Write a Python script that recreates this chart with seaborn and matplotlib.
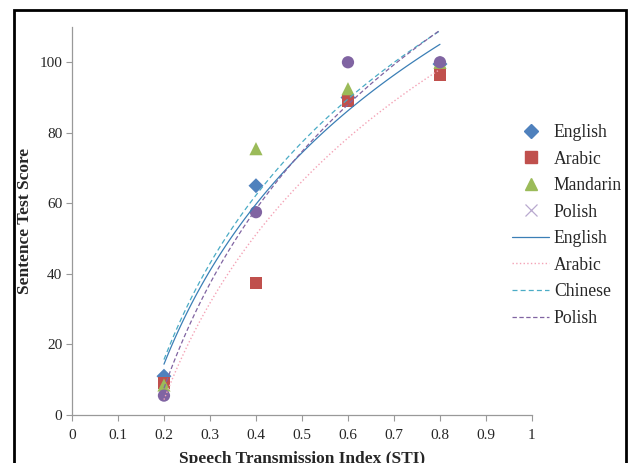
import numpy as np
import pandas as pd
import matplotlib
matplotlib.use('Agg')
import matplotlib.pyplot as plt
from matplotlib.lines import Line2D
from matplotlib.patches import Rectangle
import seaborn as sns

# values
sti = [0.2, 0.4, 0.6, 0.8]
english = [11, 65, 90, 99.5]
arabic = [9, 37.5, 89, 96.5]
mandarin = [8.5, 75.5, 92.5, 100]
polish = [5.5, 57.5, 100, 100]

x_ticks = [0, 0.1, 0.2, 0.3, 0.4, 0.5, 0.6, 0.7, 0.8, 0.9, 1]
x_tick_labels = ['0', '0.1', '0.2', '0.3', '0.4', '0.5', '0.6', '0.7', '0.8', '0.9', '1']
y_ticks = [0, 20, 40, 60, 80, 100]

df = pd.DataFrame({'sti': sti, 'English': english, 'Arabic': arabic,
                   'Mandarin': mandarin, 'Polish': polish})

sns.set_style('white')
plt.rcParams['font.family'] = ['Liberation Serif', 'DejaVu Serif']

fig = plt.figure(figsize=(6.28, 4.63), dpi=100)
ax = fig.add_axes([0.1146, 0.1037, 0.7325, 0.838])

# scatter markers
marker_styles = [
    ('English', 'D', '#4F81BD', 58),
    ('Arabic', 's', '#C0504D', 80),
    ('Mandarin', '^', '#9BBB59', 90),
    ('Polish', 'o', '#8064A2', 78),
]
for col, m, c, s in marker_styles:
    sns.scatterplot(data=df, x='sti', y=col, marker=m, color=c, s=s,
                    edgecolor='none', ax=ax, zorder=3)

# logarithmic trend lines
trend_styles = [
    ('English', '#3B7FB6', '-', 0.9),
    ('Arabic', '#F4A3B6', ':', 1.0),
    ('Mandarin', '#4BACC6', (0, (4, 2.5)), 0.9),
    ('Polish', '#8064A2', (0, (3.5, 2)), 0.9),
]
for col, c, ls, lw in trend_styles:
    sns.regplot(data=df, x='sti', y=col, logx=True, ci=None, scatter=False,
                truncate=True, ax=ax,
                line_kws={'color': c, 'linestyle': ls, 'linewidth': lw, 'zorder': 4})

ax.set_xlim(0, 1)
ax.set_ylim(0, 110)
ax.set_xticks(x_ticks)
ax.set_xticklabels(x_tick_labels)
ax.set_yticks(y_ticks)
ax.tick_params(axis='both', labelsize=11, length=4, width=0.8, color='#999999',
               direction='out', bottom=True, left=True)
ax.tick_params(axis='x', pad=6)
ax.tick_params(axis='y', pad=3)
for side in ['top', 'right']:
    ax.spines[side].set_visible(False)
for side in ['left', 'bottom']:
    ax.spines[side].set_color('#999999')
    ax.spines[side].set_linewidth(0.9)

ax.set_xlabel('Speech Transmission Index (STI)', fontsize=12.5, fontweight='bold')
ax.set_ylabel('Sentence Test Score', fontsize=12.5, fontweight='bold')
ax.yaxis.set_label_coords(-0.085, 0.5)
ax.xaxis.set_label_coords(0.5, -0.093)

# legend (markers then trend lines)
handles = [
    Line2D([], [], linestyle='none', marker='D', color='#4F81BD', markersize=7),
    Line2D([], [], linestyle='none', marker='s', color='#C0504D', markersize=8),
    Line2D([], [], linestyle='none', marker='^', color='#9BBB59', markersize=9),
    Line2D([], [], linestyle='none', marker='x', color='#B9A9CF', markersize=9, markeredgewidth=0.9),
    Line2D([], [], color='#3B7FB6', linestyle='-', linewidth=0.9),
    Line2D([], [], color='#F4A3B6', linestyle=':', linewidth=1.0),
    Line2D([], [], color='#4BACC6', linestyle=(0, (4, 2.5)), linewidth=0.9),
    Line2D([], [], color='#8064A2', linestyle=(0, (3.5, 2)), linewidth=0.9),
]
labels = ['English', 'Arabic', 'Mandarin', 'Polish', 'English', 'Arabic', 'Chinese', 'Polish']
fig.legend(handles, labels, loc='upper left', bbox_to_anchor=(512 / 628, 1 - 124 / 463),
           frameon=False, fontsize=12.7, handlelength=2.1, handletextpad=0.28,
           labelspacing=0.54, borderpad=0, borderaxespad=0)

# outer chart border
fig.patches.append(Rectangle((14 / 628, -0.05), (626 - 14) / 628, 1.05 - 10 / 463,
                             transform=fig.transFigure, fill=False,
                             edgecolor='black', linewidth=2, zorder=10))

fig.savefig('out.png', dpi=100)
